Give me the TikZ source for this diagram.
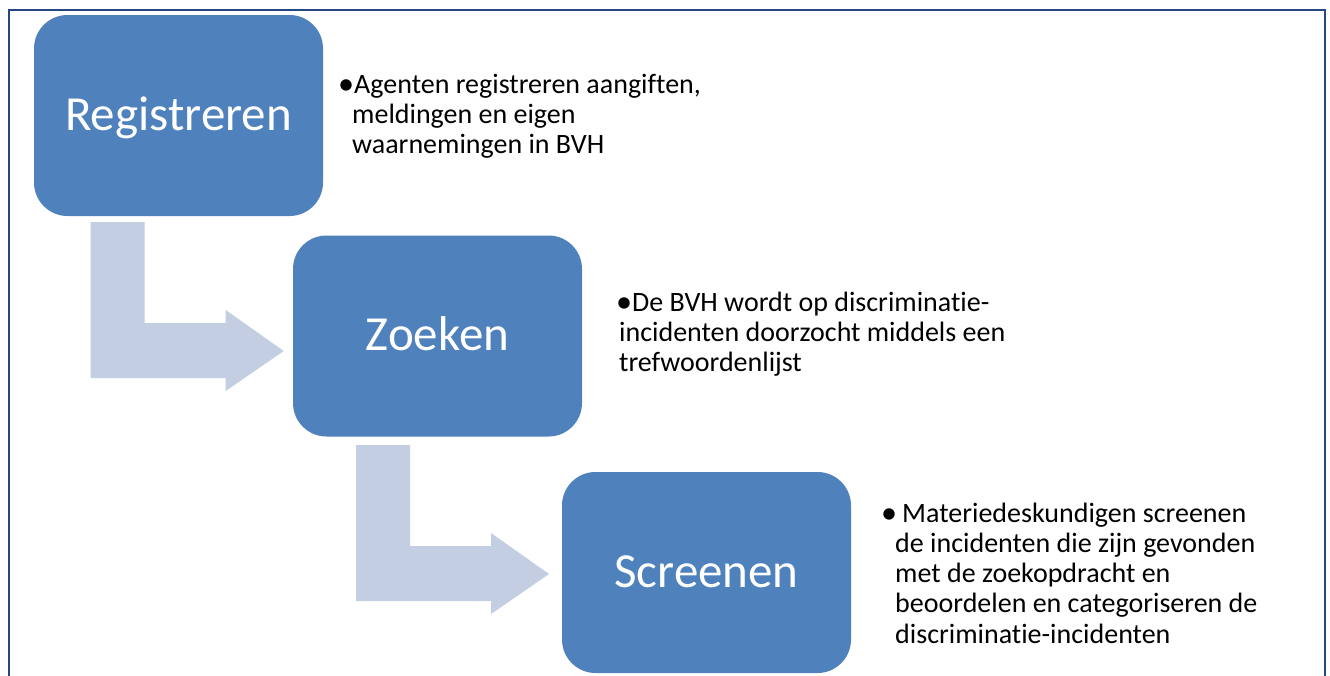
\documentclass[tikz,border=0pt]{standalone}
\usepackage{fontspec}
\setmainfont{Carlito}[Ligatures=NoCommon]
\definecolor{boxblue}{HTML}{4F81BD}
\definecolor{arrowfill}{HTML}{C3CEE3}
\definecolor{framecol}{HTML}{24487F}
\newcommand{\mybul}[2]{\makebox[0pt][l]{\kern #1pt\makebox[0pt][c]{\raisebox{-1pt}{\scalebox{1.15}{\textbullet}}}}\kern #2pt}
\begin{document}
\begin{tikzpicture}[x=1pt,y=-1pt,
  stepbox/.style={rectangle, rounded corners=33.5pt, fill=boxblue, text=white,
    font=\fontsize{49}{55}\selectfont, minimum width=289pt, minimum height=201pt,
    inner sep=0pt, text height=35pt, text depth=6pt},
  bullettext/.style={anchor=north west, inner sep=0pt, align=left,
    font=\fontsize{28}{30.2}\selectfont, text=black},
  bentarrow/.pic={\fill[arrowfill] (0,0) -- (54,0) -- (54,101) -- (135,101) -- (135,88)
    -- (193,129) -- (135,169) -- (135,156) -- (0,156) -- cycle;}
]
\useasboundingbox (0,0) rectangle (1330,675);
\fill[white] (0,0) rectangle (1330,675);
\draw[framecol, line width=2pt] (9,678) -- (9,10) -- (1325,10) -- (1325,678);

\pic at (90.7,222) {bentarrow};
\pic at (356,445) {bentarrow};

\node[stepbox] (reg) at (178.5,115.5) {Registreren};
\node[stepbox] (zoe) at (437.5,336) {Zoeken};
\node[stepbox] (scr) at (706.5,572.5) {Screenen};

\node[bullettext] (regtxt) at (352,71) {\rule{0pt}{22pt}\mybul{-6}{2}Agenten registreren aangiften,\\ meldingen en eigen\\ waarnemingen in BVH};
\node[bullettext] (zoetxt) at (619,289) {\rule{0pt}{22pt}\mybul{5}{13}De BVH wordt op discriminatie-\\ incidenten doorzocht middels een\\ trefwoordenlijst};
\node[bullettext] (scrtxt) at (895,500) {\rule{0pt}{22pt}\mybul{-6}{7}Materiedeskundigen screenen\\ de incidenten die zijn gevonden\\ met de zoekopdracht en\\ beoordelen en categoriseren de\\ discriminatie-incidenten};
\end{tikzpicture}
\end{document}
